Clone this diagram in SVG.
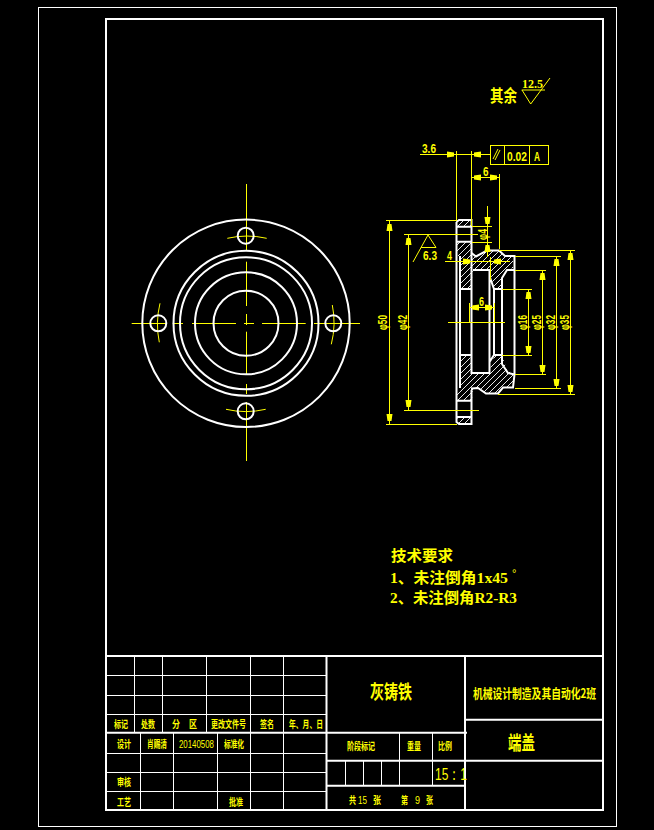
<svg xmlns="http://www.w3.org/2000/svg" width="654" height="830" viewBox="0 0 654 830">
<style>
text{fill:#ff0;font-family:"Liberation Sans","Noto Sans CJK SC",sans-serif;font-weight:700}
.cjk{font-family:"Noto Sans CJK SC",sans-serif}
.se{font-family:"Liberation Serif","Noto Sans CJK SC",serif}
.th{font-family:"Liberation Sans",sans-serif;font-weight:400}
.w{fill:none;stroke:#fff;stroke-width:1}
.w2{fill:none;stroke:#fff;stroke-width:2}
.y{fill:none;stroke:#ff0;stroke-width:1}
.a{fill:#ff0;stroke:none}
.h{fill:url(#hatch);stroke:none}
</style>
<defs>
<pattern id="hatch" width="6" height="6" patternUnits="userSpaceOnUse"><path d="M-1 7L7-1M-1 1L1-1M5 7L7 5" stroke="#fff" stroke-width="0.9" fill="none"/></pattern>
<path id="au" class="a" d="M0 0L-2 0L-3 7L3 7L2 0Z"/>
<path id="ad" class="a" d="M0 0L-2 0L-3-7L3-7L2 0Z"/>
<path id="al" class="a" d="M0 0L0-2L7-3L7 3L0 2Z"/>
<path id="ar" class="a" d="M0 0L0-2L-7-3L-7 3L0 2Z"/>
</defs>
<rect width="654" height="830" fill="#000"/>
<g id="frame">
<rect class="w" x="38.500" y="7.500" width="578" height="819"/>
<rect class="w2" x="106" y="19" width="497" height="791"/>
</g>
<g id="title-block">
<path class="w2" d="M106 656H603M326.500 656V810M465 656V810M106 732.700H467M465 719.700H603M327 760.700H603M327 785.700H465"/>
<path class="w" d="M106 675.500H326M106 695.500H326M106 714.500H326M106 753.500H326M106 772.500H326M106 791.500H326M134.500 656V732M162.500 656V732M206.500 656V732M250.500 656V810M283.500 656V810M140.500 733V810M173.500 733V810M217.500 733V810M399.500 733V785M432.500 733V785M345.500 761V785M363.500 761V785M381.500 761V785"/>
<g font-size="10">
<text class="cjk" x="114" y="728" textLength="14" lengthAdjust="spacingAndGlyphs">标记</text>
<text class="cjk" x="141" y="728" textLength="14" lengthAdjust="spacingAndGlyphs">处数</text>
<text class="cjk" x="172" y="728" textLength="8" lengthAdjust="spacingAndGlyphs">分</text><text class="cjk" x="189" y="728" textLength="8" lengthAdjust="spacingAndGlyphs">区</text>
<text class="cjk" x="211" y="728" textLength="35" lengthAdjust="spacingAndGlyphs">更改文件号</text>
<text class="cjk" x="260" y="728" textLength="14" lengthAdjust="spacingAndGlyphs">签名</text>
<text class="cjk" x="289" y="728" textLength="34" lengthAdjust="spacingAndGlyphs">年、月、日</text>
<text class="cjk" x="117" y="748" textLength="14" lengthAdjust="spacingAndGlyphs">设计</text>
<text class="cjk" x="147" y="748" textLength="20" lengthAdjust="spacingAndGlyphs">肖赐清</text>
<text class="th" x="179" y="748" textLength="35" lengthAdjust="spacingAndGlyphs">20140508</text>
<text class="cjk" x="224" y="748" textLength="20" lengthAdjust="spacingAndGlyphs">标准化</text>
<text class="cjk" x="117" y="786" textLength="14" lengthAdjust="spacingAndGlyphs">审核</text>
<text class="cjk" x="117" y="806" textLength="14" lengthAdjust="spacingAndGlyphs">工艺</text>
<text class="cjk" x="229" y="806" textLength="14" lengthAdjust="spacingAndGlyphs">批准</text>
<text class="cjk" x="347" y="750" textLength="28" lengthAdjust="spacingAndGlyphs">阶段标记</text>
<text class="cjk" x="407" y="750" textLength="14" lengthAdjust="spacingAndGlyphs">重量</text>
<text class="cjk" x="438" y="750" textLength="14" lengthAdjust="spacingAndGlyphs">比例</text>
<text class="cjk" x="349" y="804" textLength="7" lengthAdjust="spacingAndGlyphs">共</text><text class="th" x="358" y="804" textLength="9" lengthAdjust="spacingAndGlyphs">15</text><text class="cjk" x="373" y="804" textLength="8" lengthAdjust="spacingAndGlyphs">张</text>
<text class="cjk" x="401" y="804" textLength="7" lengthAdjust="spacingAndGlyphs">第</text><text class="th" x="415" y="804" textLength="5" lengthAdjust="spacingAndGlyphs">9</text><text class="cjk" x="426" y="804" textLength="7" lengthAdjust="spacingAndGlyphs">张</text>
</g>
<text class="cjk" x="370" y="699" font-size="19" textLength="42" lengthAdjust="spacingAndGlyphs">灰铸铁</text>
<text class="cjk" x="473" y="698" font-size="13" textLength="123" lengthAdjust="spacingAndGlyphs">机械设计制造及其自动化2班</text>
<text class="cjk" x="508" y="750" font-size="19" textLength="27" lengthAdjust="spacingAndGlyphs">端盖</text>
<text class="th" x="435" y="780" font-size="17" textLength="32" lengthAdjust="spacingAndGlyphs">15：1</text>
</g>
<g id="front-view">
<path class="y" d="M131.700 323.500H167M172.700 323.500H183M192 323.500H236M244 323.500H254M262 323.500H305.700M314 323.500H360M246.500 184V250.700M246.500 261.700V306M246.500 314V325M246.500 331.700V375M246.500 384V394M246.500 402V461"/>
<path class="y" d="M227.300 238.300A88 88 0 0 1 266.700 238.300M226 409.300A88 88 0 0 0 265.700 409.300M160 303.300A88 88 0 0 0 159.300 342.300M332.300 305A88 88 0 0 1 331.300 344.300"/>
<circle class="w2" cx="246" cy="323.300" r="103.700"/>
<circle class="w2" cx="246" cy="323.300" r="72.500"/>
<circle class="w2" cx="246" cy="323.300" r="66"/>
<circle class="w2" cx="246" cy="323.300" r="51"/>
<circle class="w2" cx="246" cy="323.300" r="32.500"/>
<circle class="w2" cx="245.700" cy="235.700" r="8"/>
<circle class="w2" cx="245.700" cy="411.300" r="8"/>
<circle class="w2" cx="158.300" cy="323.300" r="8"/>
<circle class="w2" cx="333.300" cy="323.300" r="8"/>
</g>
<g id="section-view">
<path class="h" d="M459 220H470L471 226.500H457ZM457 242H471L472 255L476 257L487 251H499L505 256L513 256V268L505 270L501 279L502 288H494L491 276L489 270H473L471 288H460V256H457Z"/>
<path class="h" d="M460 355H470L473 373H489L492 362L495 355H502L507 370L514 374L513 388L503 388L498 394H486L478 388L473 388L472 400H457V390H460ZM457 417H471L470 424H459Z"/>
<path class="w2" d="M456.500 222L459 220H471.500V253M456.500 222V422L459 424H471.500V390M456.500 226.700H471.500M456.500 241.700H471.500M456.500 400.700H471.500M456.500 417H471.500"/>
<path class="w2" d="M460 256V388M471.500 253L476 256.500L487 250.500H499L505 256H514.500V374.500L513 387.500H503L498 393.500H486L478 388L472 388.500V390"/>
<path class="w2" d="M471.500 253V373H489.500V270H473M514.500 270H507L502 278V364L508 373L514.500 374.500M489.500 362L494 355V289H503M489.500 276L494 289M460 289H471.500M460 355H471.500M494 355H503"/>
</g>
<g id="connectors">
<path class="y" d="M420 154.500H490M456.500 151V220M471.500 151V226M471 177.500H499M499.500 174V249M487.500 206V257M472 226.500H492M472 242.500H492M445 261.500H510M490.500 257V280M469.500 303V322M494.500 303V322M469 307.500H494M448 322.500H505"/>
<path class="y" d="M386 220.500H457M389.500 220V424M386 424.500H457M404 234.500H478M408.500 234V410M404 410.500H479"/>
<path class="y" d="M413 262L428 235L436 247.500H421"/>
<path class="y" d="M499 250.500H575M570.500 250V394M498 394.500H575M515 256.500H561M556.500 256V388M515 388.500H561M515 270.500H546M542.500 270V374M515 374.500H546M502 289.500H532M528.500 289V355M502 355.500H532"/>
<use href="#ar" x="454" y="154.500"/><use href="#al" x="474" y="154.500"/>
<use href="#al" x="474" y="177.500"/><use href="#ar" x="497" y="177.500"/>
<use href="#ad" x="487.500" y="224"/><use href="#au" x="487.500" y="245"/>
<use href="#ar" x="470" y="261.500"/><use href="#al" x="494" y="261.500"/>
<use href="#al" x="472" y="307.500"/><use href="#ar" x="492" y="307.500"/>
<use href="#au" x="389.500" y="224"/><use href="#ad" x="389.500" y="421"/>
<use href="#au" x="408.500" y="238"/><use href="#ad" x="408.500" y="407"/>
<use href="#au" x="570.500" y="253"/><use href="#ad" x="570.500" y="392"/>
<use href="#au" x="556.500" y="259"/><use href="#ad" x="556.500" y="386"/>
<use href="#au" x="542.500" y="273"/><use href="#ad" x="542.500" y="372"/>
<use href="#au" x="528.500" y="292"/><use href="#ad" x="528.500" y="353"/>
</g>
<g id="dimension-labels" font-size="13">
<text x="422" y="153" textLength="14" lengthAdjust="spacingAndGlyphs">3.6</text>
<text x="483" y="176" textLength="5.500" lengthAdjust="spacingAndGlyphs">6</text>
<text x="447" y="260" textLength="5" lengthAdjust="spacingAndGlyphs">4</text>
<text x="479" y="306" textLength="5" lengthAdjust="spacingAndGlyphs">6</text>
<text x="423" y="260" textLength="14" lengthAdjust="spacingAndGlyphs">6.3</text>
<text transform="translate(487,240) rotate(-90)" textLength="11" lengthAdjust="spacingAndGlyphs">φ4</text>
<text transform="translate(387,330) rotate(-90)" textLength="15" lengthAdjust="spacingAndGlyphs">φ50</text>
<text transform="translate(406.500,330) rotate(-90)" textLength="15" lengthAdjust="spacingAndGlyphs">φ42</text>
<text transform="translate(526.500,330) rotate(-90)" textLength="15" lengthAdjust="spacingAndGlyphs">φ16</text>
<text transform="translate(540.500,330) rotate(-90)" textLength="15" lengthAdjust="spacingAndGlyphs">φ25</text>
<text transform="translate(555,330) rotate(-90)" textLength="15" lengthAdjust="spacingAndGlyphs">φ32</text>
<text transform="translate(569,330) rotate(-90)" textLength="15" lengthAdjust="spacingAndGlyphs">φ35</text>
</g>
<g id="tolerance-frame">
<rect class="y" x="490.500" y="145.500" width="58" height="19"/>
<path class="y" d="M504.500 145V164M529.500 145V164M493 159L498 149M495 160L500 150"/>
<text x="507" y="161" font-size="13" textLength="20" lengthAdjust="spacingAndGlyphs">0.02</text>
<text x="534" y="161" font-size="13" textLength="6" lengthAdjust="spacingAndGlyphs">A</text>
</g>
<g id="roughness-note">
<text class="cjk" x="490" y="102" font-size="17" textLength="27" lengthAdjust="spacingAndGlyphs">其余</text>
<path class="y" d="M521.700 90H545M522 90L530.700 104L550 78"/>
<text class="se" x="522" y="88" font-size="12" textLength="21" lengthAdjust="spacingAndGlyphs">12.5</text>
</g>
<g id="tech-notes" font-size="15">
<text class="cjk" x="391" y="561" textLength="62" lengthAdjust="spacingAndGlyphs">技术要求</text>
<text class="se" x="390" y="583" textLength="118" lengthAdjust="spacingAndGlyphs">1、未注倒角1x45</text>
<text class="th" x="512" y="577" font-size="11">°</text>
<text class="se" x="390" y="603" textLength="127" lengthAdjust="spacingAndGlyphs">2、未注倒角R2-R3</text>
</g>
</svg>
